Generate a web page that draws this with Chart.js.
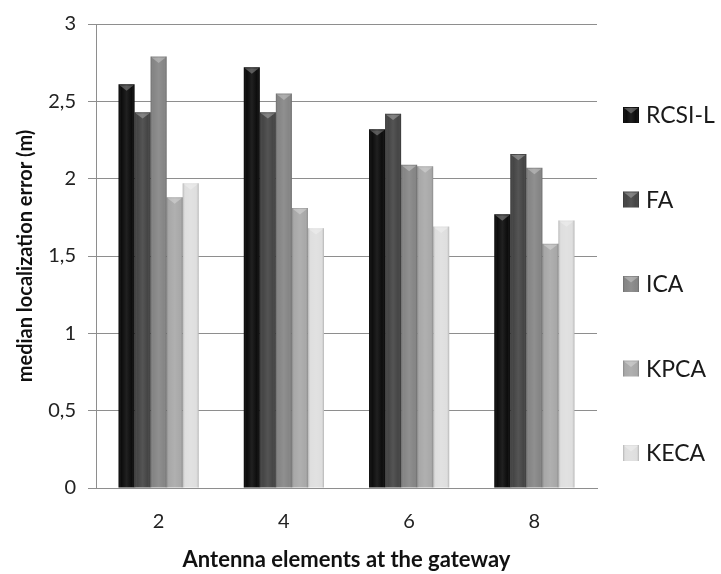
<!DOCTYPE html>
<html>
<head>
<meta charset="utf-8">
<script src="https://cdn.jsdelivr.net/npm/chart.js@4.4.1/dist/chart.umd.min.js"></script>
<style>
  html, body { margin: 0; padding: 0; background: #fff; }
  #wrap { width: 721px; height: 574px; position: relative; }
</style>
</head>
<body>
<div id="wrap"><canvas id="errChart" width="721" height="574"></canvas></div>
<script>
  // ---------- Data ----------
  const categories = ['2', '4', '6', '8'];
  const seriesNames = ['RCSI-L', 'FA', 'ICA', 'KPCA', 'KECA'];
  const rcsiL = [2.61, 2.72, 2.32, 1.77];
  const fa    = [2.43, 2.43, 2.42, 2.16];
  const ica   = [2.79, 2.55, 2.09, 2.07];
  const kpca  = [1.88, 1.81, 2.08, 1.58];
  const keca  = [1.97, 1.68, 1.69, 1.73];
  const yTicks = [0, 0.5, 1, 1.5, 2, 2.5, 3];

  const fills = ['#070707', '#414141', '#838383', '#a7a7a7', '#dedede'];
  const FONT = 'Lato, "Open Sans", Arial, sans-serif';

  // shading + little chevron cap on each bar, like the Excel bevel
  function shadeRect(ctx, l, top, w, h){
    const g = ctx.createLinearGradient(l, 0, l + w, 0);
    g.addColorStop(0, 'rgba(0,0,0,0.20)');
    g.addColorStop(0.18, 'rgba(255,255,255,0.02)');
    g.addColorStop(0.5, 'rgba(255,255,255,0.10)');
    g.addColorStop(0.82, 'rgba(255,255,255,0.02)');
    g.addColorStop(1, 'rgba(0,0,0,0.20)');
    ctx.fillStyle = g;
    ctx.fillRect(l, top, w, h);
    ctx.beginPath();
    ctx.moveTo(l + 1, top + 1);
    ctx.lineTo(l + w - 1, top + 1);
    ctx.lineTo(l + w / 2, top + Math.min(7, w * 0.4));
    ctx.closePath();
    ctx.fillStyle = 'rgba(255,255,255,0.28)';
    ctx.fill();
  }

  const barShade = {
    id: 'barShade',
    afterDatasetsDraw(chart){
      const ctx = chart.ctx;
      ctx.save();
      chart.data.datasets.forEach((ds, di)=>{
        chart.getDatasetMeta(di).data.forEach(bar=>{
          const p = bar.getProps(['x', 'y', 'base', 'width'], true);
          shadeRect(ctx, p.x - p.width / 2, p.y, p.width, p.base - p.y);
        });
      });
      ctx.restore();
    }
  };

  // legend drawn by hand so the plot width is not touched
  const sideLegend = {
    id: 'sideLegend',
    afterDraw(chart){
      const ctx = chart.ctx;
      const x0 = 623, box = 16, first = 115, step = 84.5;
      ctx.save();
      chart.data.datasets.forEach((ds, i)=>{
        const cy = first + i * step;
        ctx.fillStyle = ds.backgroundColor;
        ctx.fillRect(x0, cy - box / 2, box, box);
        shadeRect(ctx, x0, cy - box / 2, box, box);
        ctx.fillStyle = '#1a1a1a';
        ctx.font = '23px ' + FONT;
        ctx.textBaseline = 'middle';
        ctx.textAlign = 'left';
        ctx.fillText(ds.label, x0 + 23, cy + 1);
      });
      ctx.restore();
    }
  };

  const values = [rcsiL, fa, ica, kpca, keca];

  new Chart(document.getElementById('errChart'), {
    type: 'bar',
    data: {
      labels: categories,
      datasets: seriesNames.map((name, i)=>({
        label: name,
        data: values[i],
        backgroundColor: fills[i],
        borderWidth: 0,
        categoryPercentage: 0.64,
        barPercentage: 1
      }))
    },
    options: {
      responsive: false,
      animation: false,
      layout: {padding: {top: 12, right: 124, left: 0, bottom: 0}},
      plugins: {
        legend: {display: false},
        tooltip: {enabled: false}
      },
      scales: {
        x: {
          grid: {display: false, drawTicks: false},
          border: {color: '#8e8e8e', width: 1},
          ticks: {color: '#222', font: {family: FONT, size: 20}, padding: 22},
          title: {
            display: true,
            text: 'Antenna elements at the gateway',
            color: '#111',
            font: {family: FONT, size: 22, weight: 'bold'},
            padding: {top: 0, bottom: 1}
          },
          afterFit: (s)=>{ s.height = 86; }
        },
        y: {
          min: 0,
          max: 3,
          afterBuildTicks: (s)=>{ s.ticks = yTicks.map(v=>({value: v})); },
          grid: {color: '#8e8e8e', lineWidth: 1, tickLength: 8},
          border: {color: '#8e8e8e', width: 1},
          ticks: {
            color: '#222',
            font: {family: FONT, size: 20},
            padding: 12,
            callback: (v)=> String(v).replace('.', ',')
          },
          title: {
            display: true,
            text: 'median localization error (m)',
            color: '#111',
            font: {family: FONT, size: 20, weight: 'bold'},
            padding: {top: 14, bottom: 0}
          },
          afterFit: (s)=>{ s.width = 96; }
        }
      }
    },
    plugins: [barShade, sideLegend]
  });
</script>
</body>
</html>
